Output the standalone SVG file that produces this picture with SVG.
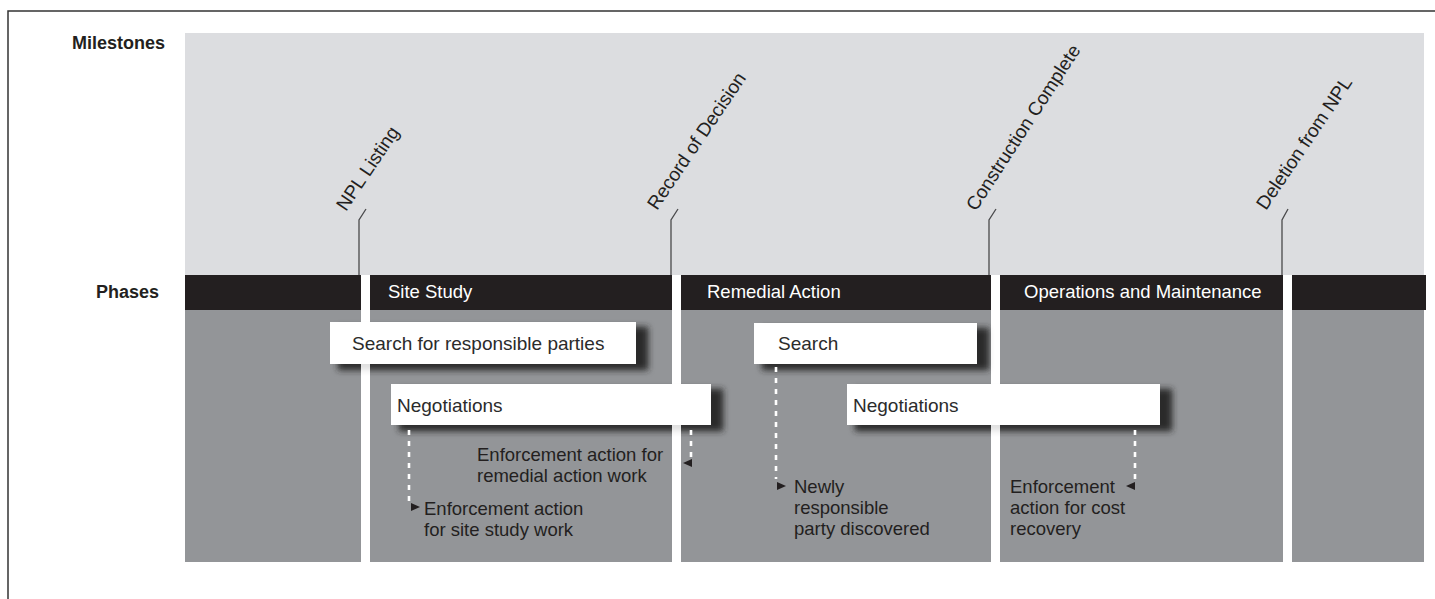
<svg xmlns="http://www.w3.org/2000/svg" width="1435" height="599" viewBox="0 0 1435 599">
<style>
.lbl{font-family:"Liberation Sans",Arial,sans-serif;font-size:18.5px;fill:#231f20}
.hdr{font-family:"Liberation Sans",Arial,sans-serif;font-size:18px;font-weight:bold;fill:#231f20}
.ph{font-family:"Liberation Sans",Arial,sans-serif;font-size:18.5px;fill:#ffffff}
.box{fill:#ffffff}
.boxt{font-family:"Liberation Sans",Arial,sans-serif;font-size:19px;fill:#2b2b2b}
.ms{font-family:"Liberation Sans",Arial,sans-serif;font-size:19px;fill:#231f20}
.col{fill:#939598}
.bar{fill:#231f20}
.tick{fill:none;stroke:#4a4a4c;stroke-width:1.3}
.dash{fill:none;stroke:#ffffff;stroke-width:2.6;stroke-dasharray:5 6}
.arr{fill:#231f20}
.sh{fill:#2a2a2c}
</style>
<defs>
<filter id="blur" x="-20%" y="-50%" width="140%" height="200%"><feGaussianBlur stdDeviation="3"/></filter>
<clipPath id="cols">
<rect x="185" y="310" width="176" height="252"/>
<rect x="370" y="310" width="302" height="252"/>
<rect x="681" y="310" width="310" height="252"/>
<rect x="1000" y="310" width="283" height="252"/>
<rect x="1292" y="310" width="132" height="252"/>
</clipPath>
</defs>
<rect x="0" y="0" width="1435" height="599" fill="#ffffff"/>
<path d="M8,599 V11 H1435" fill="none" stroke="#333333" stroke-width="1.5"/>

<g id="milestones-area">
<rect x="185" y="33" width="1239" height="242" fill="#dcdde0"/>
<text class="hdr" x="72" y="49">Milestones</text>
</g>

<g id="phases">
<text class="hdr" x="96" y="298">Phases</text>
<rect class="bar" x="185" y="275" width="176" height="35"/>
<rect class="bar" x="370" y="275" width="302" height="35"/>
<rect class="bar" x="681" y="275" width="310" height="35"/>
<rect class="bar" x="1000" y="275" width="283" height="35"/>
<rect class="bar" x="1292" y="275" width="134" height="35"/>
<rect class="col" x="185" y="310" width="176" height="252"/>
<rect class="col" x="370" y="310" width="302" height="252"/>
<rect class="col" x="681" y="310" width="310" height="252"/>
<rect class="col" x="1000" y="310" width="283" height="252"/>
<rect class="col" x="1292" y="310" width="132" height="252"/>
<text class="ph" x="388" y="298">Site Study</text>
<text class="ph" x="707" y="298">Remedial Action</text>
<text class="ph" x="1024" y="298">Operations and Maintenance</text>
</g>

<g id="milestone-labels">
<text class="ms" transform="translate(346,212) rotate(-56)">NPL Listing</text>
<text class="ms" transform="translate(657,211) rotate(-56)">Record of Decision</text>
<text class="ms" transform="translate(976,212) rotate(-57)">Construction Complete</text>
<text class="ms" transform="translate(1266,211) rotate(-56)">Deletion from NPL</text>
</g>

<g id="shadows">
<g opacity="0.15" filter="url(#blur)">
<rect class="sh" x="338" y="327" width="310" height="43"/>
<rect class="sh" x="399" y="389" width="324" height="42"/>
<rect class="sh" x="762" y="328" width="227" height="42"/>
<rect class="sh" x="855" y="389" width="317" height="42"/>
</g>
<g clip-path="url(#cols)">
<g filter="url(#blur)">
<rect class="sh" x="338" y="327" width="310" height="43"/>
<rect class="sh" x="399" y="389" width="324" height="42"/>
<rect class="sh" x="762" y="328" width="227" height="42"/>
<rect class="sh" x="855" y="389" width="317" height="42"/>
</g>
</g>
</g>

<g id="box-search-parties">
<rect class="box" x="330" y="322" width="306" height="42"/>
<text class="boxt" x="352" y="350">Search for responsible parties</text>
</g>
<g id="box-negotiations-1">
<rect class="box" x="391" y="384" width="320" height="41"/>
<text class="boxt" x="397" y="412">Negotiations</text>
</g>
<g id="box-search">
<rect class="box" x="754" y="323" width="223" height="41"/>
<text class="boxt" x="778" y="350">Search</text>
</g>
<g id="box-negotiations-2">
<rect class="box" x="847" y="384" width="313" height="41"/>
<text class="boxt" x="853" y="412">Negotiations</text>
</g>

<g id="label-site-study-enforcement">
<text class="lbl" x="424" y="515">Enforcement action</text>
<text class="lbl" x="424" y="536">for site study work</text>
</g>
<g id="label-remedial-enforcement">
<text class="lbl" x="477" y="461">Enforcement action for</text>
<text class="lbl" x="477" y="482">remedial action work</text>
</g>
<g id="label-newly-responsible">
<text class="lbl" x="794" y="493">Newly</text>
<text class="lbl" x="794" y="514">responsible</text>
<text class="lbl" x="794" y="535">party discovered</text>
</g>
<g id="label-cost-recovery">
<text class="lbl" x="1010" y="493">Enforcement</text>
<text class="lbl" x="1010" y="514">action for cost</text>
<text class="lbl" x="1010" y="535">recovery</text>
</g>

<g id="connectors">
<path class="tick" d="M359,275 V220 L366,209"/>
<path class="tick" d="M671,275 V220 L678,209"/>
<path class="tick" d="M989,275 V220 L996,209"/>
<path class="tick" d="M1282,275 V220 L1288,209"/>
<path class="dash" d="M409,430 V501"/>
<polygon class="arr" points="411,503 411,511 420,507"/>
<path class="dash" d="M691,430 V458"/>
<polygon class="arr" points="683,463 692,459 692,467"/>
<path class="dash" d="M776,367 V479"/>
<polygon class="arr" points="777,482 777,490 786,486"/>
<path class="dash" d="M1135,430 V480"/>
<polygon class="arr" points="1126,486 1135,482 1135,490"/>
</g>
</svg>
